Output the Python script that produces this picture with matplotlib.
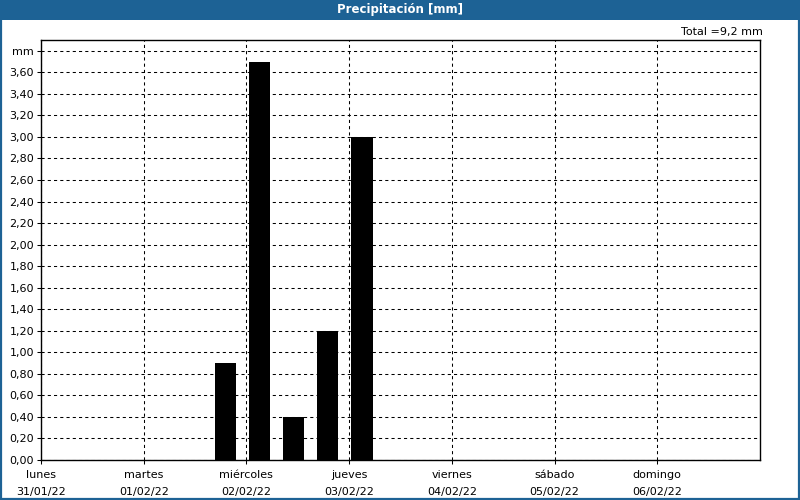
import matplotlib.pyplot as plt
from matplotlib.patches import Rectangle
import numpy as np

# data
days = ['lunes', 'martes', 'miércoles', 'jueves', 'viernes', 'sábado', 'domingo']
dates = ['31/01/22', '01/02/22', '02/02/22', '03/02/22', '04/02/22', '05/02/22', '06/02/22']
bar_hours = [43, 51, 59, 67, 75]   # hours since lunes 00:00
bar_mm = [0.9, 3.7, 0.4, 1.2, 3.0]
total_label = 'Total =9,2 mm'
y_ticks = np.arange(0, 3.81, 0.2)

blue = '#1d6295'

plt.rcParams['font.family'] = ['DejaVu Sans']
plt.rcParams['font.size'] = 8

fig = plt.figure(figsize=(8, 5), dpi=100)
fig.patch.set_facecolor('white')

# title bar and border
fig.patches.append(Rectangle((0, 0.96), 1, 0.04, transform=fig.transFigure,
                             facecolor=blue, edgecolor='none', zorder=0))
fig.patches.append(Rectangle((0.0012, 0.002), 0.9976, 0.996, transform=fig.transFigure,
                             facecolor='none', edgecolor=blue, linewidth=1.6, zorder=5))
fig.text(0.5, 0.98, 'Precipitación [mm]', color='white', fontweight='bold',
         ha='center', va='center', fontsize=8.5)
fig.text(0.953, 0.935, total_label, ha='right', va='center', fontsize=8)

ax = fig.add_axes([41 / 800, 40 / 500, 719 / 800, 420 / 500])
x = np.array(bar_hours) / 24.0
ax.bar(x, bar_mm, width=0.205, color='black', zorder=3)

ax.set_xlim(0, 7)
ax.set_ylim(0, 3.9)
ax.set_xticks(range(len(days)))
ax.set_xticklabels([d + '\n' + t for d, t in zip(days, dates)], linespacing=1.95)
ax.set_yticks(y_ticks)
ylabels = ['%.2f' % v for v in y_ticks]
ylabels = [s.replace('.', ',') for s in ylabels]
ylabels[-1] = 'mm'
ax.set_yticklabels(ylabels)

ax.grid(True, color='black', linestyle=(0, (3, 3)), linewidth=0.75, zorder=1)
ax.set_axisbelow(True)
ax.tick_params(axis='y', length=3, width=0.75, color='black', pad=2)
ax.tick_params(axis='x', length=3, width=0.75, color='black', pad=4)
for s in ax.spines.values():
    s.set_linewidth(1.0)
    s.set_color('black')

fig.savefig('out.png', dpi=100, facecolor='white')
